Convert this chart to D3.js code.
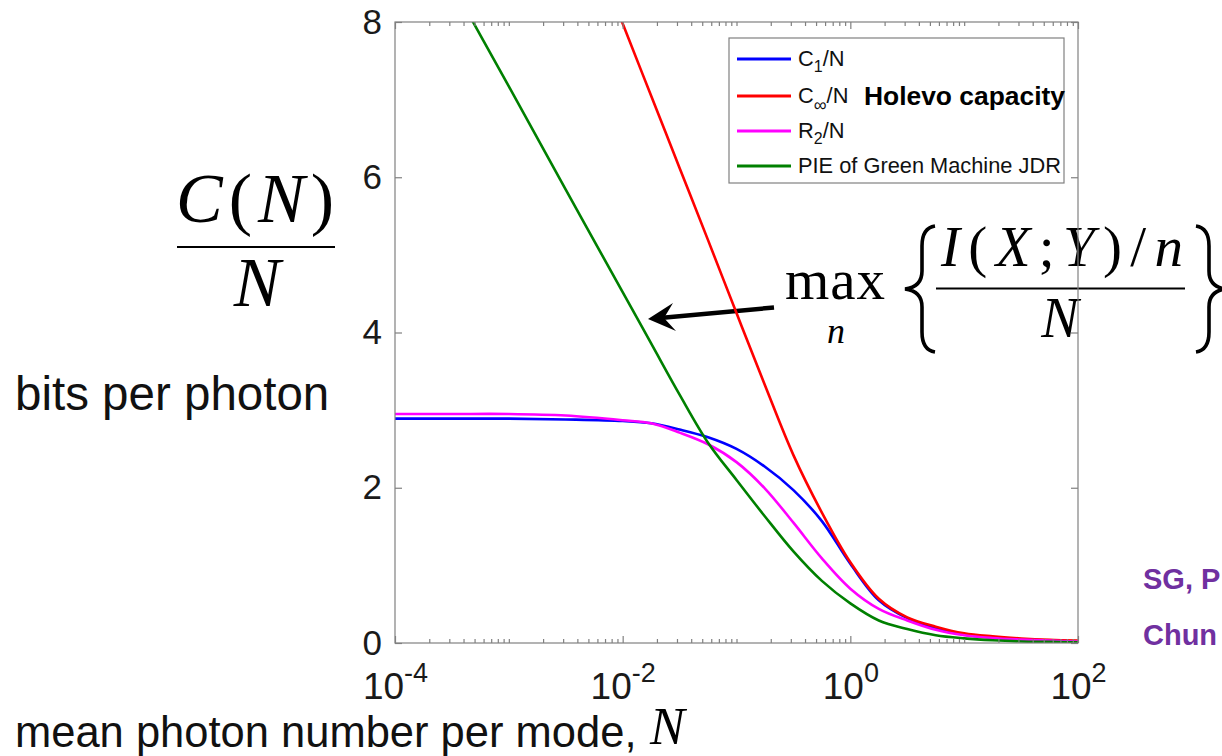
<!DOCTYPE html>
<html>
<head>
<meta charset="utf-8">
<script src="https://cdn.jsdelivr.net/npm/d3@7"></script>
<style>
  body { margin: 0; background: #fff; }
  svg { display: block; }
</style>
</head>
<body>
<script>
// log10 of mean photon number N, sample points
var logN = [-4, -3.5, -3, -2.5, -2, -1.75, -1.5, -1.25, -1, -0.75, -0.5, -0.25, 0, 0.25, 0.5, 0.75, 1, 1.25, 1.5, 1.75, 2];

// C1/N (blue)
var c1 = [2.89, 2.89, 2.89, 2.88, 2.86, 2.83, 2.75, 2.65, 2.50, 2.27, 1.97, 1.57, 1.02, 0.55, 0.32, 0.19, 0.11, 0.07, 0.045, 0.03, 0.02];
// C_inf/N Holevo (red)
var cInf = [15.4, 13.6, 11.7, 9.85, 7.98, 7.05, 6.12, 5.19, 4.25, 3.32, 2.42, 1.68, 1.04, 0.57, 0.33, 0.21, 0.125, 0.085, 0.058, 0.04, 0.03];
// R2/N (magenta)
var r2 = [2.95, 2.95, 2.95, 2.93, 2.87, 2.83, 2.71, 2.56, 2.33, 1.99, 1.55, 1.09, 0.70, 0.44, 0.29, 0.17, 0.10, 0.065, 0.045, 0.03, 0.02];
// PIE of Green Machine JDR (green)
var pie = [9.82, 8.49, 7.17, 5.84, 4.52, 3.86, 3.20, 2.58, 2.10, 1.63, 1.18, 0.80, 0.51, 0.29, 0.18, 0.10, 0.06, 0.035, 0.02, 0.015, 0.01];

var seriesNames = ["C1/N", "Cinf/N", "R2/N", "PIE of Green Machine JDR"];
var seriesColors = ["#0000ff", "#ff0000", "#ff00ff", "#008000"];
var seriesValues = [c1, cInf, r2, pie];

var xMajor = [1e-4, 1e-2, 1e0, 1e2];
var yTicks = [0, 2, 4, 6, 8];

var W = 1222, H = 756;
var L = 395, R = 1078, T = 22, B = 643;
var axisColor = "#808080";
var sans = "'Liberation Sans', Arial, Helvetica, sans-serif";
var serif = "'Liberation Serif', 'Times New Roman', serif";

var svg = d3.select("body").append("svg")
    .attr("width", W)
    .attr("height", H);

var x = d3.scaleLog().domain([1e-4, 1e2]).range([L, R]);
var y = d3.scaleLinear().domain([0, 8]).range([B, T]);

// ---- annotations behind the plot ----
var ann = svg.append("g").attr("fill", "#000");

// C(N)/N
var num = ann.append("text")
    .attr("x", 176).attr("y", 222)
    .attr("font-family", serif).attr("font-size", 70)
    .attr("textLength", 158).attr("lengthAdjust", "spacing");
num.append("tspan").attr("font-style", "italic").text("C");
num.append("tspan").text("(");
num.append("tspan").attr("font-style", "italic").text("N");
num.append("tspan").text(")");
ann.append("line").attr("x1", 177).attr("x2", 335).attr("y1", 247).attr("y2", 247)
    .attr("stroke", "#000").attr("stroke-width", 2.2);
ann.append("text").attr("x", 257).attr("y", 306)
    .attr("text-anchor", "middle")
    .attr("font-family", serif).attr("font-size", 70).attr("font-style", "italic")
    .text("N");

ann.append("text").attr("x", 15).attr("y", 410)
    .attr("font-family", sans).attr("font-size", 47.5).attr("fill", "#111")
    .text("bits per photon");

ann.append("text").attr("x", 15).attr("y", 747)
    .attr("font-family", sans).attr("font-size", 43.5).attr("fill", "#111")
    .text("mean photon number per mode,");
ann.append("text").attr("x", 650).attr("y", 744)
    .attr("font-family", serif).attr("font-size", 52).attr("font-style", "italic")
    .text("N");

// max_n { I(X;Y)/n / N }
ann.append("text").attr("x", 785).attr("y", 299)
    .attr("font-family", serif).attr("font-size", 57)
    .attr("textLength", 100).attr("lengthAdjust", "spacing")
    .text("max");
ann.append("text").attr("x", 836).attr("y", 343)
    .attr("text-anchor", "middle")
    .attr("font-family", serif).attr("font-size", 36).attr("font-style", "italic")
    .text("n");
var frac = ann.append("text").attr("x", 941).attr("y", 266)
    .attr("font-family", serif).attr("font-size", 57)
    .attr("textLength", 242).attr("lengthAdjust", "spacing");
frac.append("tspan").attr("font-style", "italic").text("I");
frac.append("tspan").text("(");
frac.append("tspan").attr("font-style", "italic").text("X");
frac.append("tspan").text(";");
frac.append("tspan").attr("font-style", "italic").text("Y");
frac.append("tspan").text(")/");
frac.append("tspan").attr("font-style", "italic").text("n");
ann.append("line").attr("x1", 936).attr("x2", 1185).attr("y1", 288.5).attr("y2", 288.5)
    .attr("stroke", "#000").attr("stroke-width", 2.2);
ann.append("text").attr("x", 1060).attr("y", 337)
    .attr("text-anchor", "middle")
    .attr("font-family", serif).attr("font-size", 56).attr("font-style", "italic")
    .text("N");

// braces
function brace(x0, dir) {
    var p = d3.path(), xm = x0 + dir * 17, xt = x0 + dir * 30;
    p.moveTo(xt, 226);
    p.quadraticCurveTo(xm, 228, xm, 246);
    p.lineTo(xm, 271);
    p.quadraticCurveTo(xm, 287, x0, 289);
    p.quadraticCurveTo(xm, 291, xm, 307);
    p.lineTo(xm, 332);
    p.quadraticCurveTo(xm, 350, xt, 352);
    return p.toString();
}
ann.append("path").attr("d", brace(905, 1))
    .attr("fill", "none").attr("stroke", "#000").attr("stroke-width", 3.6);
ann.append("path").attr("d", brace(1226, -1))
    .attr("fill", "none").attr("stroke", "#000").attr("stroke-width", 3.6);

// arrow
ann.append("line").attr("x1", 774).attr("y1", 307.5).attr("x2", 660).attr("y2", 318)
    .attr("stroke", "#000").attr("stroke-width", 4.5);
ann.append("path")
    .attr("d", "M648,319 L673,303 L664,318 L676,331 Z")
    .attr("fill", "#000");

// purple side notes (cut at the page edge)
ann.append("text").attr("x", 1143).attr("y", 589)
    .attr("font-family", sans).attr("font-size", 29).attr("font-weight", "bold")
    .attr("fill", "#7030a0").text("SG, P");
ann.append("text").attr("x", 1143).attr("y", 645)
    .attr("font-family", sans).attr("font-size", 29).attr("font-weight", "bold")
    .attr("fill", "#7030a0").text("Chun");

// ---- plot ----
svg.append("clipPath").attr("id", "clip")
  .append("rect").attr("x", L).attr("y", T).attr("width", R - L).attr("height", B - T);

var line = d3.line()
    .x(function(d){ return x(Math.pow(10, d[0])); })
    .y(function(d){ return y(d[1]); })
    .curve(d3.curveCatmullRom.alpha(0.5));

svg.append("g").attr("clip-path", "url(#clip)")
  .selectAll("path")
  .data(seriesValues)
  .enter()
  .append("path")
    .attr("d", function(vals){ return line(vals.map(function(v, i){ return [logN[i], v]; })); })
    .attr("fill", "none")
    .attr("stroke", function(d, i){ return seriesColors[i]; })
    .attr("stroke-width", 2.6);

// axes: ticks point inward on all four sides
var minor = x.ticks().filter(function(t){ return xMajor.indexOf(t) < 0; });

function styleAxis(g) {
    g.select(".domain").remove();
    g.selectAll(".tick line").attr("stroke", axisColor).attr("stroke-width", 1.2);
}

var xb = svg.append("g").attr("transform", "translate(0," + B + ")")
    .call(d3.axisBottom(x).tickValues(xMajor).tickSizeInner(-7).tickSizeOuter(0).tickPadding(0));
xb.call(styleAxis);
xb.selectAll(".tick text")
    .attr("y", 56).attr("dy", 0)
    .attr("font-family", sans).attr("font-size", 37).attr("fill", "#1a1a1a")
    .each(function(d){
        var t = d3.select(this);
        t.text("");
        t.append("tspan").text("10");
        t.append("tspan").attr("dy", -17).attr("font-size", 27).text(Math.round(Math.log10(d)));
    });

svg.append("g").attr("transform", "translate(0," + B + ")")
    .call(d3.axisBottom(x).tickValues(minor).tickSizeInner(-4).tickSizeOuter(0).tickFormat(""))
    .call(styleAxis);
svg.append("g").attr("transform", "translate(0," + T + ")")
    .call(d3.axisTop(x).tickValues(xMajor).tickSizeInner(-7).tickSizeOuter(0).tickFormat(""))
    .call(styleAxis);
svg.append("g").attr("transform", "translate(0," + T + ")")
    .call(d3.axisTop(x).tickValues(minor).tickSizeInner(-4).tickSizeOuter(0).tickFormat(""))
    .call(styleAxis);

var yl = svg.append("g").attr("transform", "translate(" + L + ",0)")
    .call(d3.axisLeft(y).tickValues(yTicks).tickSizeInner(-7).tickSizeOuter(0).tickPadding(13));
yl.call(styleAxis);
yl.selectAll(".tick text")
    .attr("font-family", sans).attr("font-size", 35).attr("fill", "#1a1a1a");
svg.append("g").attr("transform", "translate(" + R + ",0)")
    .call(d3.axisRight(y).tickValues(yTicks).tickSizeInner(-7).tickSizeOuter(0).tickFormat(""))
    .call(styleAxis);

svg.append("rect")
    .attr("x", L).attr("y", T).attr("width", R - L).attr("height", B - T)
    .attr("fill", "none").attr("stroke", axisColor).attr("stroke-width", 1.2);

// ---- legend ----
var lg = svg.append("g");
lg.append("rect").attr("x", 729).attr("y", 38).attr("width", 335).attr("height", 145)
    .attr("fill", "#fff").attr("stroke", axisColor).attr("stroke-width", 1.2);
var rowY = [59, 96, 131, 166];
lg.selectAll("line.key")
    .data(seriesNames)
    .enter()
    .append("line")
    .attr("class", "key")
    .attr("x1", 737).attr("x2", 791)
    .attr("y1", function(d, i){ return rowY[i]; })
    .attr("y2", function(d, i){ return rowY[i]; })
    .attr("stroke", function(d, i){ return seriesColors[i]; })
    .attr("stroke-width", 3);

function keyText(i) {
    return lg.append("text").attr("x", 798).attr("y", rowY[i] + 7)
        .attr("font-family", sans).attr("font-size", 21.8).attr("fill", "#111");
}
var k0 = keyText(0);
k0.append("tspan").text("C");
k0.append("tspan").attr("font-size", 16).attr("dy", 6).text("1");
k0.append("tspan").attr("dy", -6).text("/N");
var k1 = keyText(1);
k1.append("tspan").text("C");
k1.append("tspan").attr("font-size", 18).attr("dy", 8).text("\u221E");
k1.append("tspan").attr("dy", -8).text("/N");
lg.append("text").attr("x", 864).attr("y", rowY[1] + 9)
    .attr("font-family", sans).attr("font-size", 26.4).attr("font-weight", "bold").attr("fill", "#000")
    .text("Holevo capacity");
var k2 = keyText(2);
k2.append("tspan").text("R");
k2.append("tspan").attr("font-size", 16).attr("dy", 6).text("2");
k2.append("tspan").attr("dy", -6).text("/N");
keyText(3).text(seriesNames[3]);
</script>
</body>
</html>
